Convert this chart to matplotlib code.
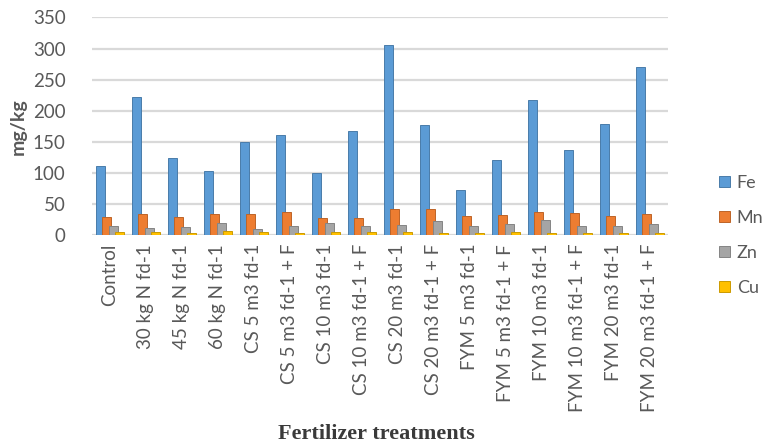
import matplotlib.pyplot as plt
import matplotlib.colors as mcolors
import numpy as np

# treatments and micronutrient values (mg/kg)
treatments = ['Control', '30 kg N fd-1', '45 kg N fd-1', '60 kg N fd-1',
              'CS 5 m3 fd-1', 'CS 5 m3 fd-1 + F', 'CS 10 m3 fd-1', 'CS 10 m3 fd-1 + F',
              'CS 20 m3 fd-1', 'CS 20 m3 fd-1 + F', 'FYM 5 m3 fd-1', 'FYM 5 m3 fd-1 + F',
              'FYM 10 m3 fd-1', 'FYM 10 m3 fd-1 + F', 'FYM 20 m3 fd-1', 'FYM 20 m3 fd-1 + F']
fe = [111, 222, 125, 103, 150, 162, 101, 167, 306, 178, 73, 121, 217, 137, 179, 270]
mn = [29, 34, 29, 34, 34, 37, 28, 28, 43, 42, 31, 33, 37, 36, 32, 34]
zn = [15, 12, 13, 20, 11, 16, 20, 15, 17, 23, 16, 18, 25, 16, 16, 19]
cu = [5, 5, 4, 7, 5, 4, 5, 5, 6, 4, 4, 6, 4, 4, 4, 4]

series = [('Fe', fe, '#5B9BD5'), ('Mn', mn, '#ED7D31'),
          ('Zn', zn, '#A5A5A5'), ('Cu', cu, '#FFC000')]

fig = plt.figure(figsize=(7.66, 4.46), dpi=100)
ax = fig.add_axes([0.120, 0.472, 0.752, 0.489])

x = np.arange(len(treatments))
w = 0.25
step = 0.18
for i, (name, vals, col) in enumerate(series):
    pos = x - 0.39 + w / 2 + i * step
    dark = np.array(mcolors.to_rgb(col)) * 0.8
    ax.bar(pos, vals, width=w, color=col, label=name, zorder=3 + i,
           edgecolor=dark, linewidth=0.7)

ax.set_xlim(-0.5, len(treatments) - 0.5)
ax.set_ylim(0, 350)
ax.set_yticks(range(0, 351, 50))
ax.yaxis.grid(True, color='#d9d9d9', linewidth=1.6, zorder=0)
ax.set_axisbelow(True)
for s in ax.spines.values():
    s.set_visible(False)
ax.tick_params(axis='both', length=0, labelcolor='#595959')
ax.tick_params(axis='y', pad=19, labelsize=13.5)
ax.tick_params(axis='x', pad=6)
ax.set_xticks(x)
ax.set_xticklabels(treatments, rotation=90, fontfamily='Lato', fontsize=13.5)
for t in ax.get_yticklabels():
    t.set_fontfamily('Lato')

ax.set_ylabel('mg/kg', fontsize=14, fontweight='bold', color='#595959',
              fontfamily='Lato', labelpad=4)
fig.text(0.492, 0.005, 'Fertilizer treatments', fontsize=16, fontweight='bold',
         fontfamily='Liberation Serif', ha='center', va='bottom', color='#3a3a3a')

leg = ax.legend(loc='center left', bbox_to_anchor=(1.06, 0.0), frameon=False,
                handlelength=0.6, handleheight=0.6, handletextpad=0.4,
                labelspacing=1.05, prop={'family': 'Lato', 'size': 13})
for t in leg.get_texts():
    t.set_color('#595959')

fig.savefig('out.png', dpi=100)
